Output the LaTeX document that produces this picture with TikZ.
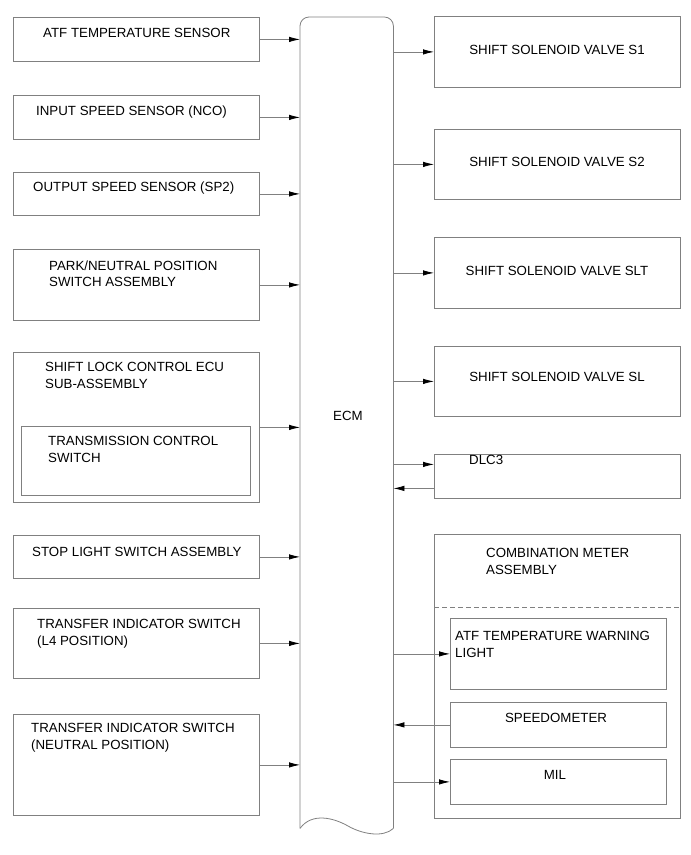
\documentclass[tikz,border=0pt]{standalone}
\usepackage{fontspec}
\setmainfont{Liberation Sans}
\usepackage{tikz}
\usetikzlibrary{arrows.meta,positioning,calc}
\definecolor{linegray}{RGB}{128,128,128}

\begin{document}
\begin{tikzpicture}[
x=1pt, y=-1pt,
font=\fontsize{13.3}{16.5}\selectfont,
box/.style={draw=linegray, line width=0.8pt, inner sep=0pt, anchor=north west},
txt/.style={inner sep=0pt, align=left, anchor=north west},
ctxt/.style={inner sep=0pt, align=center, anchor=north},
line/.style={draw=linegray, line width=0.8pt},
arr/.style={line, -{Latex[length=11pt,width=5.5pt,color=black]}}
]
\useasboundingbox (0,0) rectangle (691,855);

% Inputs (left side)
\node[box, minimum width=246, minimum height=44] (atf) at (13,17) {};
\node[box, minimum width=246, minimum height=44] (nco) at (13,95) {};
\node[box, minimum width=246, minimum height=43] (sp2) at (13,172) {};
\node[box, minimum width=246, minimum height=71] (pnp) at (13,249) {};
\node[box, minimum width=246, minimum height=150] (slk) at (13,352) {};
\node[box, minimum width=229, minimum height=69] (tcs) at (21,426) {};
\node[box, minimum width=246, minimum height=43] (stp) at (13,535) {};
\node[box, minimum width=246, minimum height=70] (lfour) at (13,608) {};
\node[box, minimum width=246, minimum height=101] (neut) at (13,714) {};

\node[txt] (atf-t) at (43,28.2) {ATF TEMPERATURE SENSOR};
\node[txt] (nco-t) at (36,105.2) {INPUT SPEED SENSOR (NCO)};
\node[txt] (sp2-t) at (33,181.2) {OUTPUT SPEED SENSOR (SP2)};
\node[txt] (pnp-t) at (49,260.2) {PARK/NEUTRAL POSITION\\SWITCH ASSEMBLY};
\node[txt] (slk-t) at (45,362.2) {SHIFT LOCK CONTROL ECU\\SUB-ASSEMBLY};
\node[txt] (tcs-t) at (48,436.2) {TRANSMISSION CONTROL\\SWITCH};
\node[txt] (stp-t) at (32,547.2) {STOP LIGHT SWITCH ASSEMBLY};
\node[txt] (lfour-t) at (37,619.2) {TRANSFER INDICATOR SWITCH\\(L4 POSITION)};
\node[txt] (neut-t) at (31,723.2) {TRANSFER INDICATOR SWITCH\\(NEUTRAL POSITION)};

% ECM
\node[inner sep=0pt, minimum width=93, minimum height=811, anchor=north west] (ecm) at (300,17) {};
\draw[line, rounded corners=9pt] (ecm.south west) -- (ecm.north west) -- (ecm.north east) -- (ecm.south east);
\draw[line] (ecm.south east) .. controls (383,838) and (362,834) .. (348,826)
  .. controls (334,818) and (312,812) .. (ecm.south west);
\node[txt] (ecm-t) at (333,411.2) {ECM};

% Outputs (right side)
\node[box, minimum width=246, minimum height=71] (sone) at (434,16) {};
\node[box, minimum width=246, minimum height=70] (stwo) at (434,129) {};
\node[box, minimum width=246, minimum height=71] (slt) at (434,237) {};
\node[box, minimum width=246, minimum height=70] (sl) at (434,346) {};
\node[box, minimum width=246, minimum height=44] (dlc) at (434,454) {};
\node[box, minimum width=246, minimum height=284] (cmb) at (434,534) {};
\node[box, minimum width=216, minimum height=71] (warn) at (450,618) {};
\node[box, minimum width=216, minimum height=45] (spd) at (450,702) {};
\node[box, minimum width=216, minimum height=45] (mil) at (450,759) {};

\node[ctxt] (sone-t) at (557,45.2) {SHIFT SOLENOID VALVE S1};
\node[ctxt] (stwo-t) at (557,157.2) {SHIFT SOLENOID VALVE S2};
\node[ctxt] (slt-t) at (557,266.2) {SHIFT SOLENOID VALVE SLT};
\node[ctxt] (sl-t) at (557,372.2) {SHIFT SOLENOID VALVE SL};
\node[txt] (dlc-t) at (469,455.5) {DLC3};
\node[txt] (cmb-t) at (486,548.2) {COMBINATION METER\\ASSEMBLY};
\node[txt] (warn-t) at (455,631.2) {ATF TEMPERATURE WARNING\\LIGHT};
\node[ctxt] (spd-t) at (556,713.2) {SPEEDOMETER};
\node[ctxt] (mil-t) at (555,770.2) {MIL};

% Dashed divider
\coordinate (divl) at (434,607);
\coordinate (divr) at (680,607);
\draw[line, dash pattern=on 5pt off 3pt] (divl) -- (divr);

% Connections into ECM
\foreach \n in {atf,nco,sp2,pnp,slk,stp,lfour,neut}
  \draw[arr] (\n.east) -- (\n.east -| ecm.west);

% Connections out of ECM
\foreach \n in {sone,stwo,slt,sl,warn,mil}
  \draw[arr] (\n.west -| ecm.east) -- (\n.west);

\coordinate (dlcin) at ($(dlc.west)+(0,-12)$);
\coordinate (dlcout) at ($(dlc.west)+(0,12)$);
\draw[arr] (dlcin -| ecm.east) -- (dlcin);
\draw[arr] (dlcout) -- (dlcout -| ecm.east);
\draw[arr] (spd.west) -- (spd.west -| ecm.east);

\end{tikzpicture}
\end{document}
